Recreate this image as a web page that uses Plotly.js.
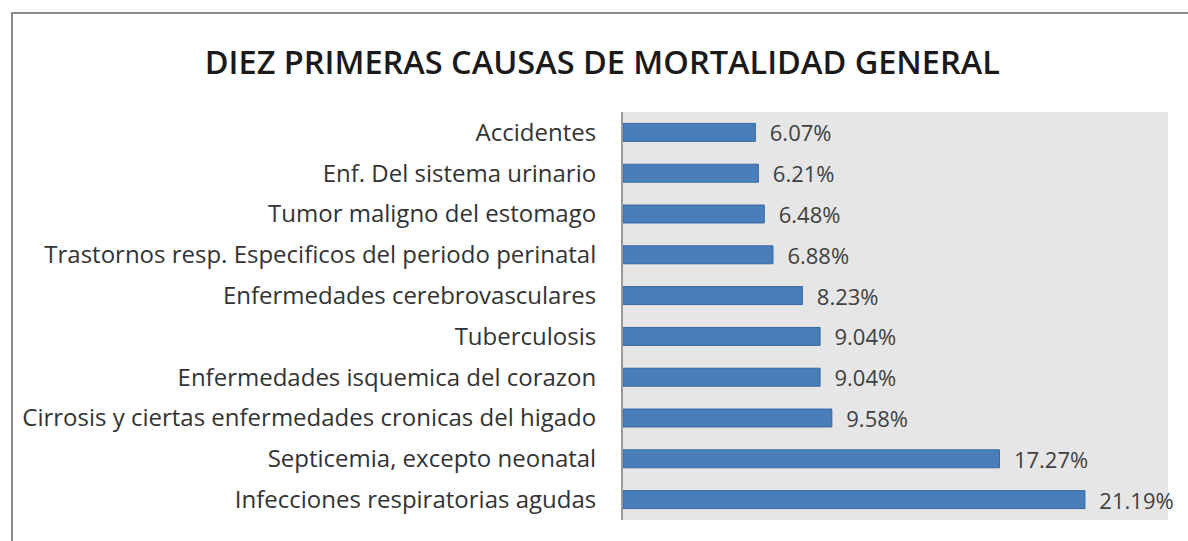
<!DOCTYPE html>
<html><head><meta charset="utf-8">
<script src="https://cdn.plot.ly/plotly-3.0.1.min.js"></script>
<style>
html,body{margin:0;padding:0;background:#fff;}
#frame{position:absolute;left:11px;top:12px;width:1300px;height:700px;border-left:2px solid #8c8c8c;border-top:2px solid #8c8c8c;pointer-events:none;z-index:5;}
#chart{position:absolute;left:0;top:0;width:1188px;height:541px;}
</style></head>
<body>
<div id="chart"></div>
<div id="frame"></div>
<script>
const categories = [
  "Accidentes",
  "Enf. Del sistema urinario",
  "Tumor maligno del estomago",
  "Trastornos resp. Especificos del periodo perinatal",
  "Enfermedades cerebrovasculares",
  "Tuberculosis",
  "Enfermedades isquemica del corazon",
  "Cirrosis y ciertas enfermedades cronicas del higado",
  "Septicemia, excepto neonatal",
  "Infecciones respiratorias agudas"
];
const values = [6.07, 6.21, 6.48, 6.88, 8.23, 9.04, 9.04, 9.58, 17.27, 21.19];
const valueLabels = values.map(v => "\u00a0\u00a0" + v.toFixed(2) + "%");

const trace = {
  type: 'bar',
  orientation: 'h',
  y: categories,
  x: values,
  text: valueLabels,
  textposition: 'outside',
  constraintext: 'none',
  cliponaxis: false,
  textfont: {family: 'Open Sans, sans-serif', size: 22, color: '#404040'},
  marker: {color: '#4A7EBB', line: {color: '#36689F', width: 1}},
  width: 0.44,
  hoverinfo: 'skip'
};

const layout = {
  width: 1188, height: 541,
  margin: {l: 623, r: 20, t: 112, b: 21, pad: 0},
  paper_bgcolor: '#ffffff',
  plot_bgcolor: '#e6e6e6',
  showlegend: false,
  title: {
    text: 'DIEZ PRIMERAS CAUSAS DE MORTALIDAD GENERAL',
    font: {family: 'Open Sans, sans-serif', size: 32.5, color: '#1a1a1a', weight: 600},
    xref: 'container', yref: 'container', x: 0.507, y: 0.885,
    xanchor: 'center', yanchor: 'middle'
  },
  xaxis: {
    range: [0, 25], showgrid: false, zeroline: false,
    showticklabels: false, ticks: '', showline: false, fixedrange: true
  },
  yaxis: {
    autorange: 'reversed', type: 'category',
    showgrid: false, zeroline: false, ticks: '',
    showline: true, linecolor: '#999999', linewidth: 2,
    tickfont: {family: 'Open Sans, sans-serif', size: 24, color: '#333333'},
    ticklabelstandoff: 20
  }
};

Plotly.newPlot('chart', [trace], layout, {displayModeBar: false, staticPlot: true});
</script>
</body></html>
